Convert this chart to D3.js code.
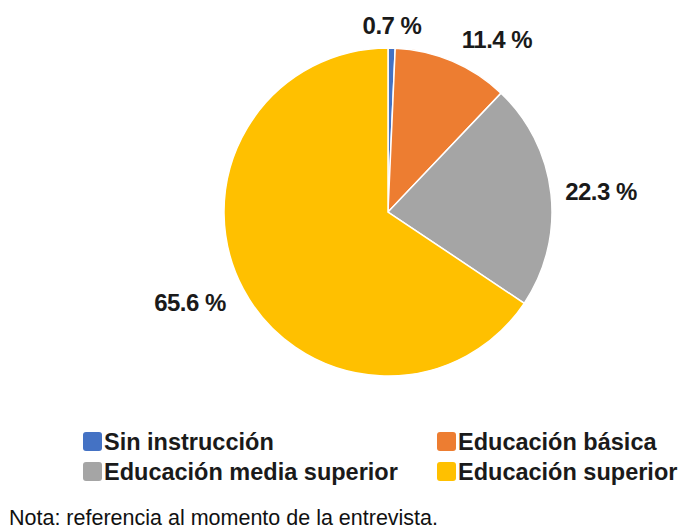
<!DOCTYPE html>
<html><head><meta charset="utf-8">
<script src="https://cdn.jsdelivr.net/npm/d3@7"></script>
<style>body{margin:0;background:#fff}</style>
</head><body>
<svg id="c" width="683" height="529"></svg>
<script>
const categories = ["Sin instrucción","Educación básica","Educación media superior","Educación superior"];
const values = [0.7, 11.4, 22.3, 65.6];
const labels = ["0.7 %","11.4 %","22.3 %","65.6 %"];
const colors = ["#4472C4","#ED7D31","#A5A5A5","#FFC000"];
const legendOrder = [0,1,2,3];

const svg = d3.select("#c");
const cx = 388, cy = 212, r = 164;
const pie = d3.pie().sort(null).value(d=>d);
const arcs = pie(values);
const arc = d3.arc().innerRadius(0).outerRadius(r);
const g = svg.append("g").attr("transform",`translate(${cx},${cy})`);
g.selectAll("path").data(arcs).enter().append("path")
  .attr("d",arc).attr("fill",(d,i)=>colors[i])
  .attr("stroke","#fff").attr("stroke-width",1.5);

const labelPos = [[4,-187],[109,-173],[213,-21],[-198,90]];
g.selectAll("text.lbl").data(arcs).enter().append("text")
  .attr("class","lbl")
  .attr("x",(d,i)=>labelPos[i][0]).attr("y",(d,i)=>labelPos[i][1]+9)
  .attr("text-anchor","middle")
  .attr("font-family","'Liberation Sans',Arial,sans-serif")
  .attr("font-weight","bold").attr("font-size",24).attr("fill","#1a1a1a")
  .attr("letter-spacing",-0.5)
  .text((d,i)=>labels[i]);

const legPos = [[83,432],[437,432],[83,462],[437,462]];
const lg = svg.append("g");
legendOrder.forEach((k,j)=>{
  const [x,y] = legPos[j];
  lg.append("rect").attr("x",x).attr("y",y).attr("width",19).attr("height",19)
    .attr("rx",3).attr("fill",colors[k]);
  lg.append("text").attr("x",x+21).attr("y",y+18)
    .attr("font-family","'Liberation Sans',Arial,sans-serif")
    .attr("font-weight","bold").attr("font-size",23.5).attr("fill","#1a1a1a")
    .text(categories[k]);
});

svg.append("text").attr("x",9).attr("y",525)
  .attr("font-family","'Liberation Sans',Arial,sans-serif")
  .attr("font-size",21.5).attr("fill","#111")
  .text("Nota: referencia al momento de la entrevista.");
</script>
</body></html>
